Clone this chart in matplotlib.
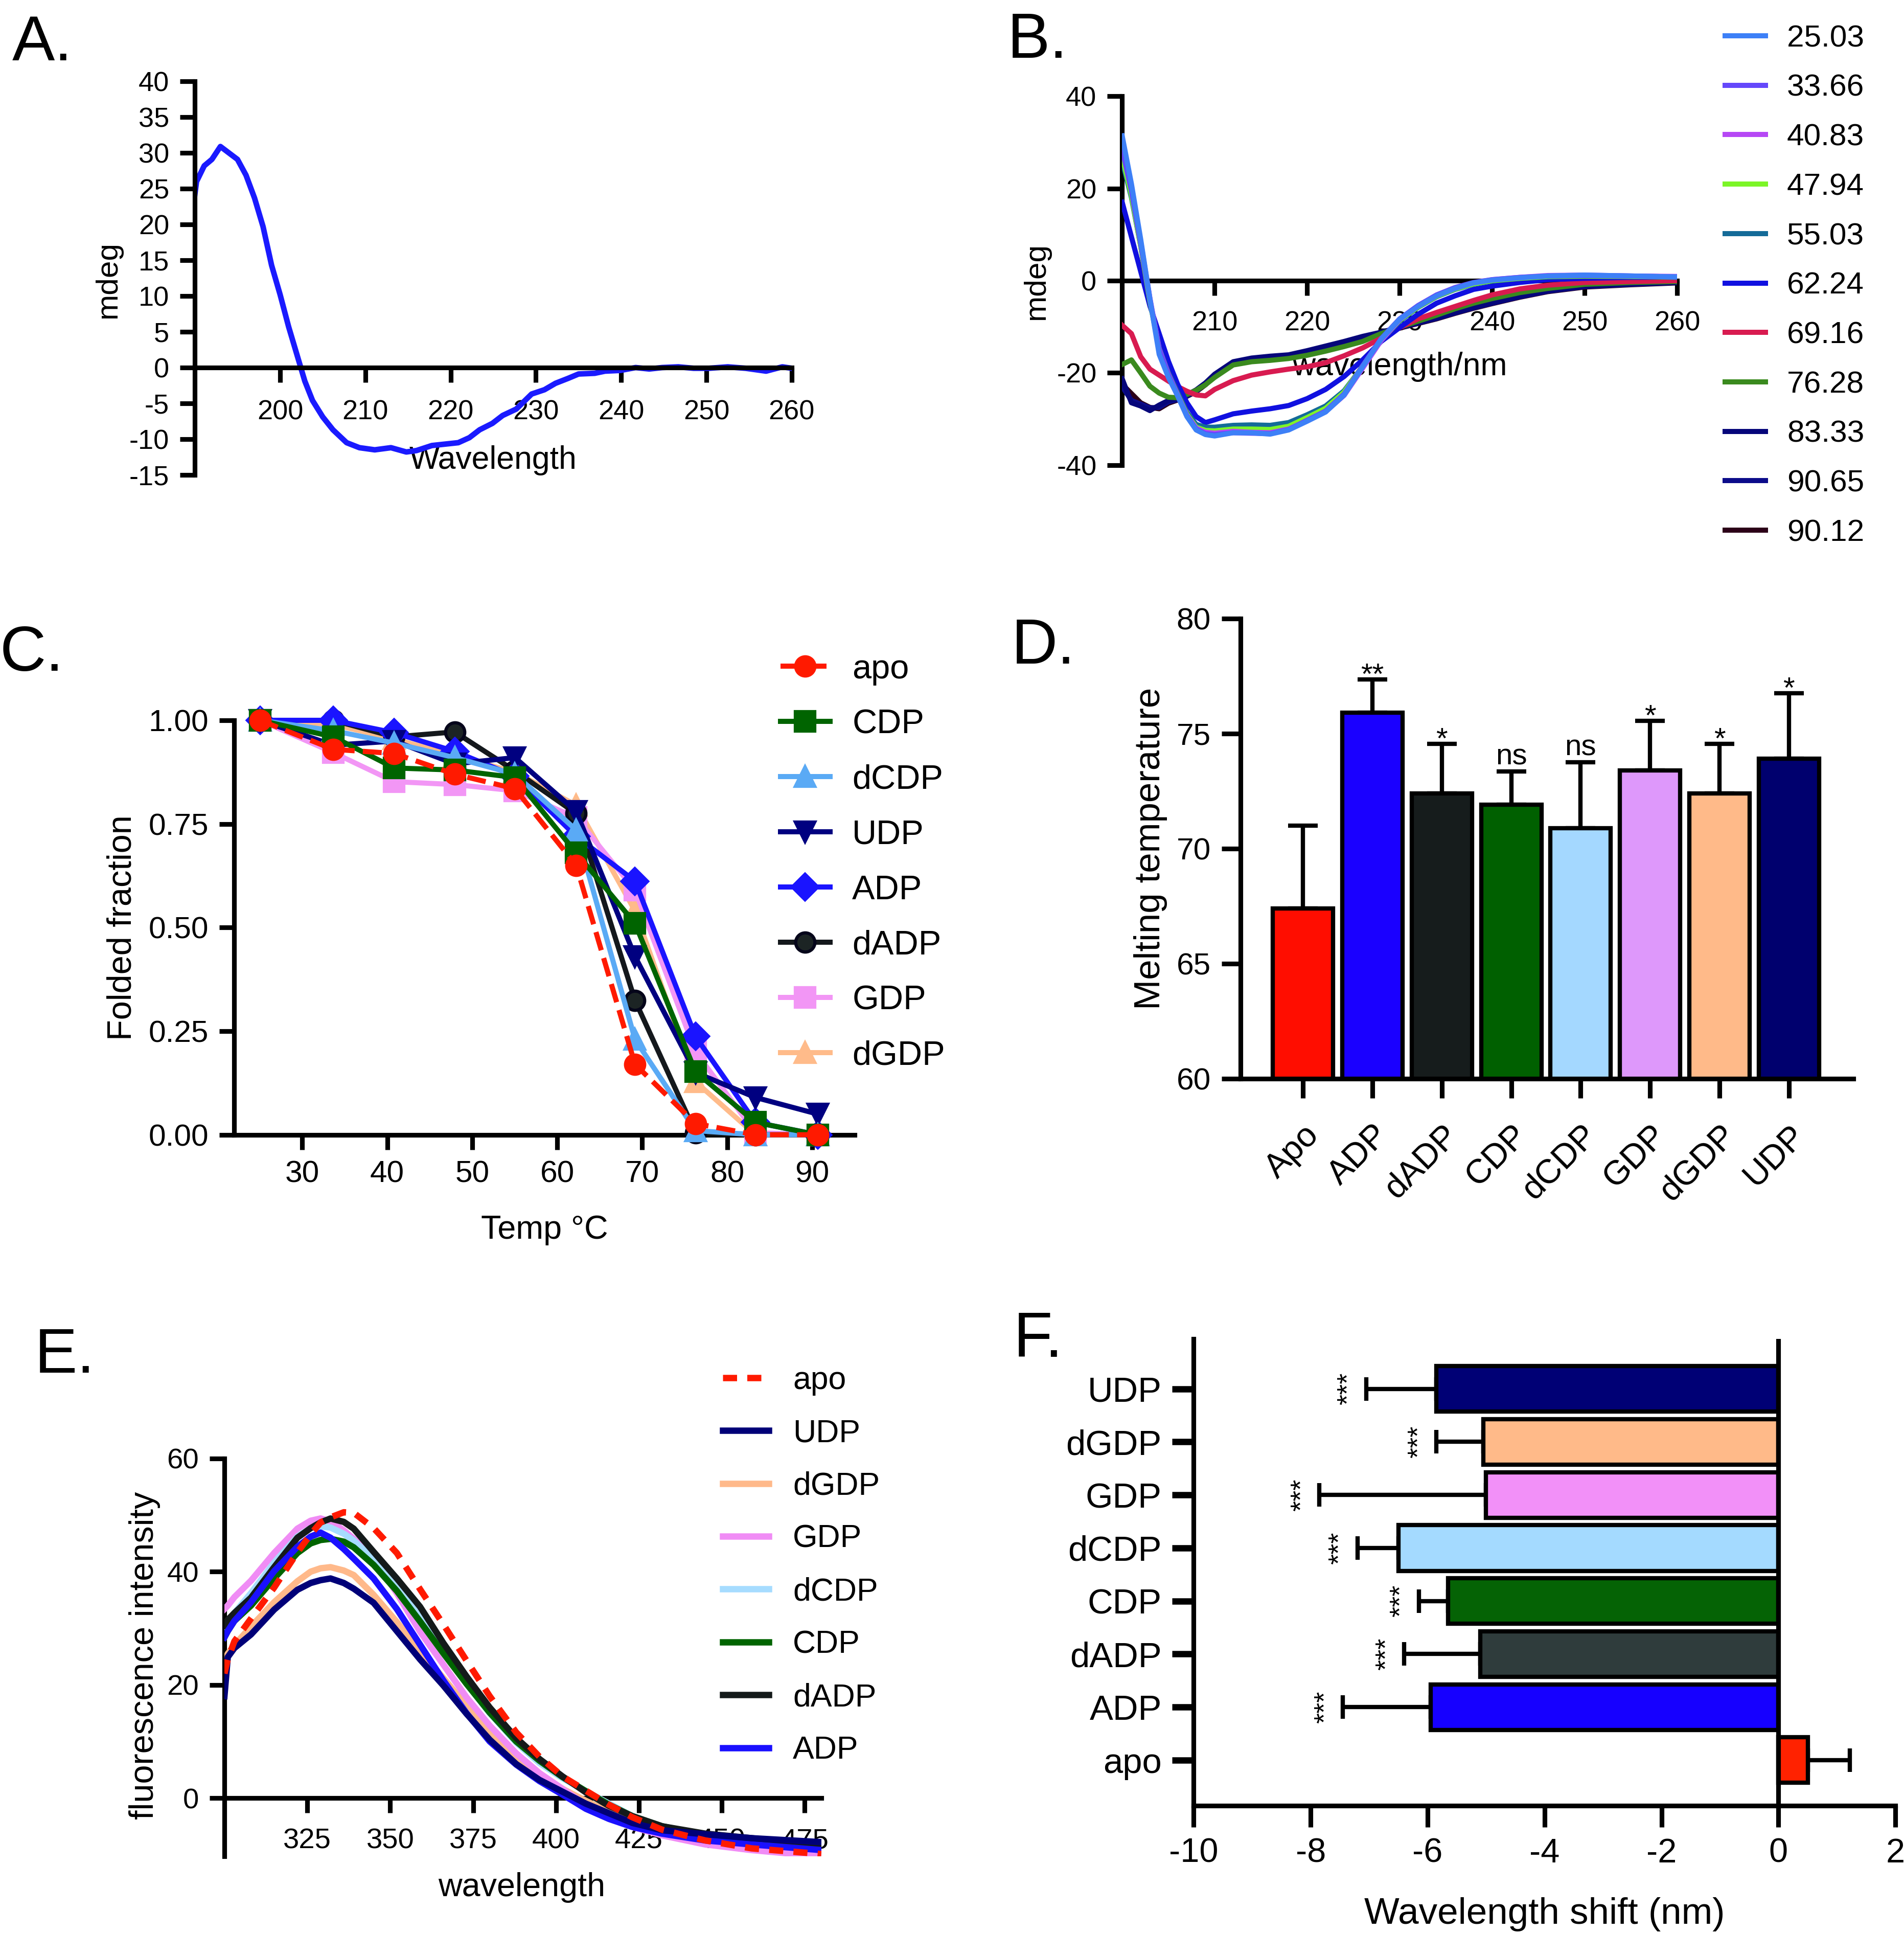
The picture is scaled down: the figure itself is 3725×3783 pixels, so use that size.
import matplotlib
matplotlib.use("Agg")
import matplotlib.pyplot as plt
import numpy as np

plt.rcParams["font.family"] = ["Liberation Sans", "DejaVu Sans"]
plt.rcParams["axes.linewidth"] = 2.2
plt.rcParams["axes.unicode_minus"] = False

# ---------------- data ----------------
# A. CD spectrum
a_wl = [190, 190.2, 191.1, 192, 193, 194, 195, 196, 197, 198, 199, 200, 201, 202, 202.9,
        203.8, 205, 206.2, 207.8, 209.3, 211.1, 213, 214.8, 216, 217.8, 220.9, 222.2,
        223.4, 224.9, 226.1, 227.7, 229.5, 231, 232.3, 233.8, 235, 236.9, 238.1, 239.9,
        241.7, 243.3, 244.8, 246.7, 248.5, 250.3, 252.5, 254.6, 257, 258.9, 260]
a_mdeg = [24.2, 26, 28.2, 29.1, 30.9, 30, 29.1, 26.9, 23.7, 19.7, 14.3, 10.2, 5.7, 1.7, -1.9,
          -4.6, -6.9, -8.7, -10.5, -11.2, -11.5, -11.2, -11.8, -11.6, -10.9, -10.5, -9.8,
          -8.7, -7.8, -6.7, -5.8, -3.7, -3.1, -2.2, -1.5, -0.9, -0.8, -0.5, -0.4,
          0.0, -0.2, 0.0, 0.1, -0.1, -0.1, 0.1, -0.1, -0.5, 0.1, -0.1]

# B. CD spectra at increasing temperature
b_wl = [200, 201, 202, 203, 204, 205, 206, 207, 208, 209, 210, 212, 214, 216, 218, 220,
        222, 224, 226, 228, 230, 232, 234, 236, 238, 240, 243, 246, 250, 255, 260]
b_temps = ["25.03", "33.66", "40.83", "47.94", "55.03", "62.24",
           "69.16", "76.28", "83.33", "90.65", "90.12"]
b_colors = ["#3d80f7", "#6448fb", "#b648f5", "#7cf527", "#146b98", "#1010e0",
            "#d81b50", "#3a8a1e", "#06067a", "#0c0c8a", "#2c0018"]
b_25 = [31.4, 21, 9, -4, -16, -21, -25, -29.5, -32.4, -33.4, -33.7, -33, -33, -33.3, -32.4,
        -30.5, -28.5, -24.8, -18.7, -12.7, -8.4, -5.6, -3.3, -1.7, -0.5, 0.1, 0.6, 1.0, 1.2,
        1.0, 0.8]
b_33 = [28.5, 19.5, 8, -4, -15, -20.5, -25, -29.3, -32.2, -33.2, -33.4, -33, -33.1, -33.2,
        -32.3, -30.3, -28.3, -24.6, -18.5, -12.6, -8.3, -5.4, -3.1, -1.5, -0.4, 0.2, 0.7, 1.0,
        1.1, 1.0, 0.8]
b_40 = [29.5, 20, 8.5, -3.8, -14.8, -20.3, -24.8, -29.2, -32, -32.9, -33.1, -32.7, -32.9, -33,
        -32.2, -30.4, -28.4, -24.9, -19, -13, -8.5, -5.5, -3.2, -1.6, -0.5, 0.2, 0.7, 1.1, 1.2,
        1.0, 0.9]
b_47 = [27, 18.5, 7.5, -4.5, -15, -20.5, -24.8, -29, -31.8, -32.5, -32.6, -32.2, -32.2, -32.3,
        -31.6, -29.7, -27.7, -24.2, -18.5, -12.8, -8.6, -5.7, -3.4, -1.8, -0.7, 0.0, 0.5, 0.9,
        1.0, 0.9, 0.8]
b_55 = [26, 18, 7.5, -4.3, -14.6, -20, -24.3, -28.6, -31.2, -31.8, -31.8, -31.4, -31.3, -31.4,
        -30.8, -29.1, -27.2, -23.9, -18.6, -13, -8.8, -5.8, -3.5, -1.9, -0.8, -0.1, 0.5, 0.8,
        0.9, 0.9, 0.7]
b_62 = [17, 9.5, 2, -5.5, -11.5, -17.5, -22.5, -26.5, -29.5, -30.8, -30.2, -28.9, -28.3, -27.8,
        -27.1, -25.6, -23.6, -20.8, -17.2, -13.2, -10.2, -7.3, -4.9, -3.3, -1.9, -1.2, -0.4,
        0.2, 0.5, 0.7, 0.8]
b_69 = [-9.7, -11.5, -16.5, -19.2, -20.5, -21.8, -23, -24, -24.8, -25, -23.6, -21.7, -20.5,
        -19.8, -19.2, -18.7, -17.8, -16.3, -14.6, -12.5, -10.2, -8.3, -6.9, -5.6, -4.3, -3.1,
        -1.8, -1.0, -0.4, -0.2, 0.0]
b_76 = [-18.2, -17.2, -20, -22.9, -24.4, -25.3, -25.4, -24.7, -23.8, -22.6, -21, -18.3, -17.6,
        -17.3, -16.9, -16.2, -15.3, -14.3, -13.2, -11.5, -10.1, -8.8, -7.5, -6.1, -4.9, -3.9,
        -2.6, -1.7, -0.8, -0.4, -0.2]
b_83 = [-21.3, -26.5, -27.2, -28.2, -27, -26, -25.6, -24.8, -23.7, -22.2, -20.3, -17.6, -16.8,
        -16.4, -16.1, -15.2, -14.2, -13.2, -12.1, -11.2, -10.1, -9.1, -8.1, -6.9, -5.8, -4.8,
        -3.4, -2.2, -1.2, -0.7, -0.4]
b_90a = [-23, -26, -26.8, -27.6, -27.5, -26.3, -25.8, -25, -24, -22.4, -20.5, -17.8, -17,
         -16.6, -16.2, -15.3, -14.3, -13.3, -12.2, -11.3, -10.2, -9.2, -8.2, -7.0, -5.9, -4.9,
         -3.5, -2.3, -1.3, -0.8, -0.4]
b_90b = [-22.5, -24.5, -26.5, -27.5, -27.8, -26.6, -25.9, -25.1, -24.1, -22.6, -20.7, -18,
         -17.2, -16.8, -16.4, -15.5, -14.5, -13.5, -12.4, -11.4, -10.3, -9.3, -8.3, -7.1, -6.0,
         -5.0, -3.6, -2.4, -1.4, -0.9, -0.5]
b_series = [b_25, b_33, b_40, b_47, b_55, b_62, b_69, b_76, b_83, b_90a, b_90b]

# C. thermal unfolding (folded fraction)
c_temp = [25.03, 33.66, 40.83, 47.94, 55.03, 62.24, 69.16, 76.28, 83.33, 90.65]
c_names = ["apo", "CDP", "dCDP", "UDP", "ADP", "dADP", "GDP", "dGDP"]
c_colors = ["#ff1a00", "#006400", "#5aaaf5", "#000080", "#1a14ff", "#14181c", "#f296f5", "#ffbb8a"]
c_markers = ["o", "s", "^", "v", "D", "o", "s", "^"]
c_values = [
    [1.00, 0.93, 0.92, 0.87, 0.835, 0.65, 0.17, 0.027, 0.0, 0.0],
    [1.00, 0.96, 0.885, 0.88, 0.862, 0.68, 0.51, 0.152, 0.03, 0.0],
    [1.00, 0.975, 0.945, 0.91, 0.87, 0.735, 0.23, 0.01, 0.0, 0.0],
    [1.00, 0.94, 0.95, 0.895, 0.91, 0.78, 0.43, 0.15, 0.09, 0.05],
    [1.00, 1.00, 0.97, 0.925, 0.865, 0.72, 0.612, 0.237, 0.03, 0.0],
    [1.00, 1.00, 0.96, 0.972, 0.878, 0.775, 0.324, 0.005, 0.0, 0.0],
    [1.00, 0.922, 0.852, 0.845, 0.83, 0.765, 0.59, 0.2, 0.005, 0.0],
    [1.00, 0.99, 0.955, 0.915, 0.875, 0.795, 0.54, 0.128, 0.0, 0.0],
]
c_yticks = [0.0, 0.25, 0.5, 0.75, 1.0]

# D. melting temperatures
d_names = ["Apo", "ADP", "dADP", "CDP", "dCDP", "GDP", "dGDP", "UDP"]
d_tm = [67.4, 75.9, 72.4, 71.9, 70.9, 73.4, 72.4, 73.9]
d_err = [3.6, 1.45, 2.15, 1.45, 2.85, 2.15, 2.15, 2.85]
d_sig = ["", "**", "*", "ns", "ns", "*", "*", "*"]
d_colors = ["#ff0d00", "#1a00ff", "#161c1c", "#006000", "#a4d8ff", "#de98fb", "#ffba89", "#00006e"]

# E. intrinsic fluorescence
e_wl = [300, 301, 303, 308, 315, 322, 326, 329, 332, 336, 339, 345, 352, 359, 366, 373, 380,
        388, 395, 402, 409, 416, 423, 432, 445, 459, 480]
e_names = ["apo", "UDP", "dGDP", "GDP", "dCDP", "CDP", "dADP", "ADP"]
e_colors = ["#ff1a00", "#000078", "#ffb98a", "#f08cf5", "#a6dcff", "#006400", "#141a1a", "#1a10ff"]
e_apo = [22, 24.5, 27.7, 31.7, 37.2, 43.4, 46.6, 48.7, 49.6, 50.5, 50.4, 47.7, 43.3, 36.9,
         30.7, 24.3, 18, 11.6, 7.3, 3.8, 1.3, -1.2, -3.4, -5.6, -7.5, -8.9, -9.9]
e_udp = [18, 24.9, 26.5, 28.9, 33.3, 36.8, 38, 38.5, 38.8, 38, 37, 34.5, 29.5, 24.5, 19.9,
         14.9, 10.3, 6.0, 3.2, 1.1, -1.0, -2.7, -4.4, -5.7, -6.4, -7.1, -7.8]
e_dgdp = [24, 25.5, 27, 30.3, 34.6, 38.3, 40, 40.6, 40.8, 40.2, 39.4, 35.9, 31.1, 26.1, 21.2,
          16.3, 11.7, 7.3, 4.1, 1.6, -0.5, -2.5, -4.4, -5.9, -7.1, -7.8, -8.9]
e_gdp = [33.4, 34, 35.5, 38.4, 43.3, 47.6, 49, 49.4, 48.9, 47.3, 45.8, 42.3, 36.2, 29.4, 23.6,
         17.8, 12.8, 7.9, 4.4, 1.6, -1.2, -3.4, -5.1, -6.6, -8.2, -9.2, -10.3]
e_dcdp = [29.1, 30.5, 32.7, 36.2, 41.6, 46.2, 47.7, 48, 47.8, 46.7, 45.5, 42.2, 38, 31.8, 25.8,
          20.2, 15, 9.8, 6.2, 3.5, 1.2, -1, -3.2, -5, -6.5, -7.5, -8.9]
e_cdp = [28.4, 29.5, 31.3, 34, 38.8, 43.3, 45, 45.6, 45.8, 45.3, 44.3, 41.2, 36.6, 31.2, 25.6,
         20.2, 15.1, 10, 6.6, 3.7, 1.2, -1.2, -3.2, -5, -6.6, -7.3, -8.9]
e_dadp = [30.5, 31.5, 32.7, 35.4, 40.8, 46, 47.7, 48.7, 49.4, 48.8, 47.6, 43.5, 38.8, 33.8,
          27.4, 21.5, 16, 10.6, 6.9, 3.8, 1.0, -1.4, -3.2, -5, -6.3, -7.1, -8.5]
e_adp = [28.4, 29.5, 31.3, 34.6, 40.1, 44.4, 46.2, 46.9, 46, 44, 42.3, 38.8, 33.4, 27.1, 20.8,
         15, 10, 5.9, 3, 0.6, -1.9, -3.7, -5.1, -6.3, -7.5, -8.2, -9.2]
e_series = [e_apo, e_udp, e_dgdp, e_gdp, e_dcdp, e_cdp, e_dadp, e_adp]

# F. wavelength shift
f_names = ["apo", "ADP", "dADP", "CDP", "dCDP", "GDP", "dGDP", "UDP"]
f_shift = [0.5, -5.95, -5.1, -5.65, -6.5, -5.0, -5.05, -5.85]
f_err = [0.72, 1.5, 1.3, 0.5, 0.7, 2.85, 0.8, 1.2]
f_sig = ["", "***", "***", "***", "***", "***", "***", "***"]
f_colors = ["#ff2200", "#1600ff", "#2f3c3c", "#056305", "#a4daff", "#f290f8", "#ffba89", "#000075"]

# ---------------- layout helpers ----------------
W, H = 1544, 1568  # reference grid


def add_ax(fig, left, top, right, bottom):
    return fig.add_axes([left / W, 1 - bottom / H, (right - left) / W, (bottom - top) / H])


def style(ax, size, length=7, pad=5):
    ax.spines["top"].set_visible(False)
    ax.spines["right"].set_visible(False)
    ax.tick_params(direction="out", width=2.2, length=length, labelsize=size, pad=pad)


fig = plt.figure(figsize=(3725 / 300, 3783 / 300), dpi=300)

# ---- A ----
ax = add_ax(fig, 158, 66, 642, 385)
style(ax, 13)
ax.plot(a_wl, a_mdeg, color="#1a1aff", lw=2.6)
ax.set_xlim(190, 260)
ax.set_ylim(-15, 40)
ax.spines["bottom"].set_position(("data", 0))
ax.set_xticks(range(200, 261, 10))
ax.set_yticks(range(-15, 41, 5))
ax.tick_params(axis="x", pad=8)
ax.set_xlabel("Wavelength", fontsize=15)
ax.xaxis.set_label_coords(0.5, 0.075)
ax.set_ylabel("mdeg", fontsize=14.5)
ax.yaxis.set_label_coords(-0.122, 0.495)

# ---- B ----
ax = add_ax(fig, 910, 78, 1360, 377)
style(ax, 13)
handles = []
for i, (vals, col) in enumerate(zip(b_series, b_colors)):
    (ln,) = ax.plot(b_wl, vals, color=col, lw=2.4, zorder=20 - i)
    handles.append(ln)
ax.set_xlim(200, 260)
ax.set_ylim(-40, 40)
ax.spines["bottom"].set_position(("data", 0))
ax.set_xticks(range(210, 261, 10))
ax.set_yticks([-40, -20, 0, 20, 40])
ax.tick_params(axis="x", pad=7)
ax.set_xlabel("wavelength/nm", fontsize=15)
ax.xaxis.set_label_coords(0.5, 0.307)
ax.set_ylabel("mdeg", fontsize=14.5)
ax.yaxis.set_label_coords(-0.129, 0.498)
fig.legend(handles, b_temps, loc="upper left", bbox_to_anchor=(1399 / W, 1 - 20 / H),
           frameon=False, fontsize=14.5, handlelength=1.3, handletextpad=0.7,
           labelspacing=0.69, borderpad=0, borderaxespad=0)

# ---- C ----
ax = add_ax(fig, 190, 584, 693, 920)
style(ax, 14.5)
handles = []
for i, (name, col, mk, vals) in enumerate(zip(c_names, c_colors, c_markers, c_values)):
    face = "#1c2424" if name == "dADP" else col
    edge = "#05051a" if name == "dADP" else col
    ms = 9 if mk in "os^v" else 8.5
    (ln,) = ax.plot(c_temp, vals, color=col, lw=2.4, ls="--" if name == "apo" else "-",
                    marker=mk, ms=ms, mfc=face, mec=edge, mew=1.5, clip_on=False,
                    zorder=20 if name == "apo" else 10 - i)
    handles.append(ln)
ax.set_xlim(22, 95)
ax.set_ylim(0, 1)
ax.set_xticks(range(30, 91, 10))
ax.set_yticks(c_yticks, labels=[f"{v:.2f}" for v in c_yticks])
ax.set_xlabel("Temp °C", fontsize=15.5)
ax.xaxis.set_label_coords(0.5, -0.193)
ax.set_ylabel("Folded fraction", fontsize=16)
ax.yaxis.set_label_coords(-0.155, 0.5)
fig.legend(handles, c_names, loc="upper left", bbox_to_anchor=(633 / W, 1 - 530 / H),
           frameon=False, fontsize=16, handlelength=1.45, handletextpad=0.65,
           labelspacing=0.69, borderpad=0, borderaxespad=0)

# ---- D ----
ax = add_ax(fig, 1006, 501.5, 1503, 874.6)
style(ax, 14.5, length=9)
x = np.arange(len(d_names))
ax.bar(x, d_tm, width=0.87, color=d_colors, edgecolor="black", linewidth=2, zorder=2)
ax.errorbar(x, d_tm, yerr=[np.zeros(len(d_err)), d_err], fmt="none", ecolor="black",
            elinewidth=2, capsize=7, capthick=2, zorder=1)
for xi, top, e, s in zip(x, d_tm, d_err, d_sig):
    if s == "ns":
        ax.text(xi, top + e + 0.3, s, ha="center", va="baseline", fontsize=14)
    elif s:
        ax.text(xi, top + e - 0.2, s, ha="center", va="baseline", fontsize=14)
ax.set_xlim(-0.9, 7.93)
ax.set_ylim(60, 80)
ax.set_yticks(range(60, 81, 5))
ax.set_xticks(x, labels=d_names, rotation=45, ha="right", rotation_mode="anchor", fontsize=16)
ax.tick_params(axis="x", pad=10)
ax.set_ylabel("Melting temperature", fontsize=17)
ax.yaxis.set_label_coords(-0.119, 0.5)

# ---- E ----
ax = add_ax(fig, 182, 1182.5, 666, 1505)
style(ax, 13.5)
handles = []
for i, (name, col, vals) in enumerate(zip(e_names, e_colors, e_series)):
    if name == "apo":
        (ln,) = ax.plot(e_wl, vals, color=col, lw=3, ls=(0, (2.2, 1.6)), zorder=20)
    else:
        (ln,) = ax.plot(e_wl, vals, color=col, lw=3, zorder=10 + (i == 1) * 5)
    handles.append(ln)
ax.set_xlim(300, 480)
ax.set_ylim(-10.3, 60)
ax.spines["bottom"].set_position(("data", 0))
ax.set_xticks(range(325, 476, 25))
ax.set_yticks([0, 20, 40, 60])
ax.tick_params(axis="x", pad=7)
ax.set_xlabel("wavelength", fontsize=15.5)
ax.xaxis.set_label_coords(0.498, -0.04)
ax.set_ylabel("fluorescence intensity", fontsize=16)
ax.yaxis.set_label_coords(-0.107, 0.505)
fig.legend(handles, e_names, loc="upper left", bbox_to_anchor=(586 / W, 1 - 1107 / H),
           frameon=False, fontsize=15, handlelength=1.45, handletextpad=0.75,
           labelspacing=0.71, borderpad=0, borderaxespad=0)

# ---- F ----
ax = add_ax(fig, 968, 1085.6, 1537, 1464)
style(ax, 16, length=10)
y = np.arange(len(f_names))
shift = np.array(f_shift)
err = np.array(f_err)
ax.barh(y, shift, height=0.86, color=f_colors, edgecolor="black", linewidth=2, zorder=2)
lo = np.where(shift < 0, err, 0)
hi = np.where(shift >= 0, err, 0)
ax.errorbar(shift, y, xerr=[lo, hi], fmt="none", ecolor="black", elinewidth=2,
            capsize=5.5, capthick=2, zorder=1)
for yi, v, e, s in zip(y, shift, err, f_sig):
    if s:
        ax.text(v - e - 0.3, yi, s, rotation=90, ha="center", va="center", fontsize=13)
ax.axvline(0, color="black", lw=2.2, zorder=3)
ax.set_xlim(-10, 2)
ax.set_ylim(-0.86, 7.94)
ax.set_xticks(range(-10, 3, 2))
ax.set_yticks(y, labels=f_names, fontsize=16.5)
ax.tick_params(axis="y", width=3)
ax.set_xlabel("Wavelength shift (nm)", fontsize=17.5)
ax.xaxis.set_label_coords(0.5, -0.196)

# ---- panel letters ----
for lbl, px, py in [("A.", 10, 49), ("B.", 817, 47), ("C.", 0, 544),
                    ("D.", 820, 538), ("E.", 28, 1113), ("F.", 822, 1100)]:
    fig.text(px / W, 1 - py / H, lbl, fontsize=30, va="baseline", ha="left")

fig.savefig("out.png", dpi=300)
